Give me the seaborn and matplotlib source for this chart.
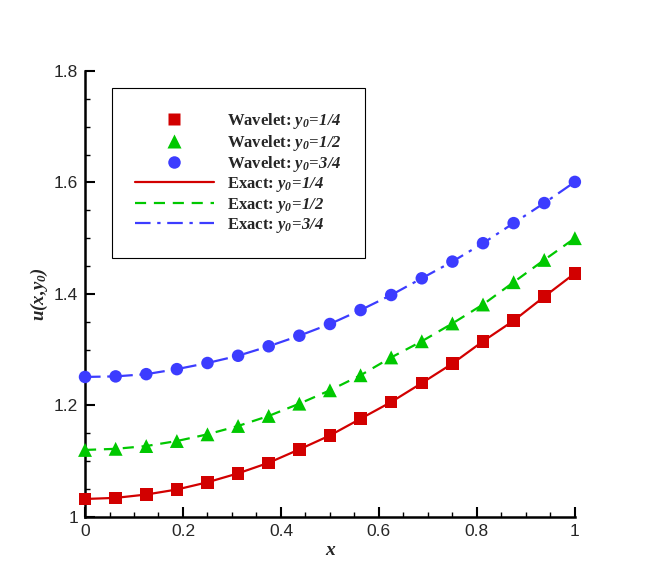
import pandas as pd
import matplotlib
matplotlib.use('Agg')
import matplotlib.pyplot as plt
import seaborn as sns
from matplotlib.ticker import MultipleLocator, FormatStrFormatter
from matplotlib.lines import Line2D

# data
x = [0, 0.0625, 0.125, 0.1875, 0.25, 0.3125, 0.375, 0.4375, 0.5,
     0.5625, 0.625, 0.6875, 0.75, 0.8125, 0.875, 0.9375, 1.0]
u_quarter = [1.032, 1.034, 1.040, 1.049, 1.062, 1.078, 1.097, 1.121, 1.146,
             1.176, 1.206, 1.240, 1.275, 1.315, 1.352, 1.395, 1.437]
u_half = [1.120, 1.122, 1.127, 1.136, 1.148, 1.163, 1.181, 1.203, 1.227,
          1.254, 1.286, 1.315, 1.347, 1.381, 1.421, 1.461, 1.500]
u_three_quarter = [1.251, 1.252, 1.256, 1.265, 1.276, 1.289, 1.306, 1.325, 1.346,
                   1.371, 1.398, 1.428, 1.458, 1.491, 1.527, 1.563, 1.601]
y0_labels = ['1/4', '1/2', '3/4']

sns.set_style('ticks')
plt.rcParams['font.family'] = ['Liberation Sans', 'DejaVu Sans']
# math parts are bold italic serif everywhere (digits too)
plt.rcParams['mathtext.fontset'] = 'custom'
plt.rcParams['mathtext.it'] = 'Liberation Serif:italic:bold'
plt.rcParams['mathtext.rm'] = 'Liberation Serif:italic:bold'
plt.rcParams['mathtext.bf'] = 'Liberation Serif:italic:bold'

colors = ['#d20000', '#00c800', '#3c3cff']
markers = ['s', '^', 'o']
msizes = [9, 10, 9]
styles = ['-', (0, (5, 3.5)), (0, (7, 3, 1.5, 3))]
series = [u_quarter, u_half, u_three_quarter]

fig = plt.figure(figsize=(6.54, 5.82), dpi=100)
ax = fig.add_axes([0.130, 0.112, 0.749, 0.766])

for vals, c, m, ms, ls in zip(series, colors, markers, msizes, styles):
    df = pd.DataFrame({'x': x, 'u': vals})
    sns.lineplot(data=df, x='x', y='u', color=c, linestyle=ls, linewidth=1.6, ax=ax, zorder=2)
    sns.scatterplot(data=df, x='x', y='u', color=c, marker=m, s=ms ** 2,
                    edgecolor='none', ax=ax, zorder=3, clip_on=False)

ax.set_xlim(0, 1)
ax.set_ylim(1, 1.8)
ax.xaxis.set_major_locator(MultipleLocator(0.2))
ax.xaxis.set_minor_locator(MultipleLocator(0.05))
ax.yaxis.set_major_locator(MultipleLocator(0.2))
ax.yaxis.set_minor_locator(MultipleLocator(0.05))
ax.xaxis.set_major_formatter(FormatStrFormatter('%g'))
ax.yaxis.set_major_formatter(FormatStrFormatter('%g'))
ax.tick_params(which='both', direction='in', width=1.5, labelsize=12.5, pad=5, color='black')
ax.tick_params(which='major', length=7)
ax.tick_params(which='minor', length=3.5, width=1.0)

sns.despine(ax=ax)
for side in ['left', 'bottom']:
    ax.spines[side].set_linewidth(1.8)
    ax.spines[side].set_color('black')

ax.set_xlabel('x', family='Liberation Serif', style='italic', weight='bold', fontsize=14, labelpad=2)
ax.set_ylabel(r'$u(x,\!y_0)$', fontsize=13.5, labelpad=3)

handles = []
labels = []
for c, m, ms, lab in zip(colors, markers, msizes, y0_labels):
    handles.append(Line2D([], [], color=c, marker=m, markersize=ms, linestyle='none', markeredgecolor='none'))
    labels.append('Wavelet: $y_0\\!=\\!' + lab + '$')
for c, ls, lab in zip(colors, styles, y0_labels):
    handles.append(Line2D([], [], color=c, linestyle=ls, linewidth=1.6))
    labels.append('Exact: $y_0\\!=\\!' + lab + '$')

leg = ax.legend(handles, labels, loc='upper left', bbox_to_anchor=(0.055, 0.962), borderaxespad=0,
                prop={'family': 'Liberation Serif', 'weight': 'bold', 'size': 12},
                fancybox=False, framealpha=1, edgecolor='black', borderpad=1.4,
                handlelength=4.7, handletextpad=0.8, labelspacing=0.08)
leg.get_frame().set_linewidth(0.8)

fig.savefig('out.png', dpi=100)
